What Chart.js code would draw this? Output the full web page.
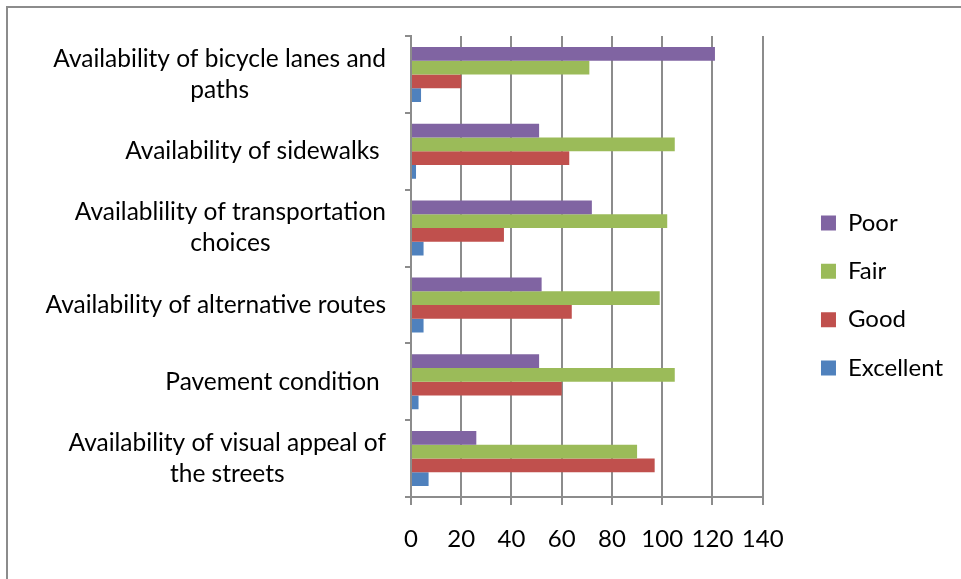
<!DOCTYPE html>
<html>
<head>
<meta charset="utf-8">
<script src="https://cdn.jsdelivr.net/npm/chart.js@4/dist/chart.umd.min.js"></script>
<style>
  html, body { margin: 0; padding: 0; background: #ffffff; overflow: hidden; }
  #frame { position: absolute; left: 6px; top: 6px; width: 1000px; height: 620px; border: 2px solid #8c8c8c; box-sizing: border-box; }
  #c { position: absolute; left: 0; top: 0; }
</style>
</head>
<body>
<div id="frame"></div>
<canvas id="c" width="961" height="579"></canvas>
<script>
const categories = [
  ["Availability of bicycle lanes and", "paths"],
  ["Availability of sidewalks "],
  ["Availablility of transportation", "choices"],
  ["Availability of alternative routes"],
  ["Pavement condition "],
  ["Availability of visual appeal of", "the streets"]
];
const seriesNames = ["Poor", "Fair", "Good", "Excellent"];
const poor      = [121, 51, 72, 52, 51, 26];
const fair      = [71, 105, 102, 99, 105, 90];
const good      = [20, 63, 37, 64, 60, 97];
const excellent = [4, 2, 5, 5, 3, 7];
const xTicks = [0, 20, 40, 60, 80, 100, 120, 140];

const colors = ["#8064A2", "#9BBB59", "#C0504D", "#4F81BD"];
const FONT = "Lato";
const FS_CAT = 24.5;
const FS = 24;

const seriesData = [poor, fair, good, excellent];
const datasets = seriesNames.map((n, i) => ({
  label: n,
  data: seriesData[i],
  backgroundColor: colors[i],
  borderWidth: 0,
  barPercentage: 1.0,
  categoryPercentage: 0.715,
  xAxisID: "x",
  yAxisID: "y"
}));

const yLabelPlugin = {
  id: "yLabelPlugin",
  afterDraw(chart) {
    const ys = chart.scales.y;
    const ctx = chart.ctx;
    ctx.save();
    ctx.font = FS_CAT + "px " + FONT;
    ctx.fillStyle = "#000000";
    ctx.textBaseline = "middle";
    ctx.textAlign = "center";
    const rightEdge = 386;
    const lh = 31;
    categories.forEach((lines, i) => {
      const cy = ys.getPixelForTick(i);
      let maxW = 0;
      lines.forEach(l => { maxW = Math.max(maxW, ctx.measureText(l).width); });
      const cx = rightEdge - maxW / 2;
      const y0 = cy - (lines.length - 1) * lh / 2;
      lines.forEach((l, k) => ctx.fillText(l, cx, y0 + k * lh));
    });
    ctx.restore();
  }
};

const gridColor = "#8c8c8c";

new Chart(document.getElementById("c"), {
  type: "bar",
  data: { labels: categories.map(c => c.join(" ")), datasets },
  options: {
    indexAxis: "y",
    responsive: false,
    devicePixelRatio: 1,
    animation: false,
    layout: { padding: { top: 16, bottom: 4, left: 0, right: 8 } },
    plugins: {
      legend: {
        position: "right",
        align: "center",
        labels: {
          font: { family: FONT, size: FS },
          color: "#000000",
          boxWidth: 15,
          boxHeight: 15,
          padding: 24.3
        }
      },
      tooltip: { enabled: false }
    },
    scales: {
      x: {
        type: "linear",
        position: "bottom",
        min: 0,
        max: 140,
        afterBuildTicks(scale) { scale.ticks = xTicks.map(v => ({ value: v })); },
        afterFit(scale) { scale.height = 78; },
        grid: { color: gridColor, lineWidth: 2, drawTicks: true, tickLength: 8, tickColor: gridColor },
        border: { display: true, color: gridColor, width: 2 },
        ticks: { font: { family: FONT, size: FS }, color: "#000000", padding: 20, maxRotation: 0 }
      },
      xTop: {
        type: "linear",
        position: "top",
        display: true,
        afterFit(scale) { scale.height = 20; },
        grid: { display: false },
        border: { display: false },
        ticks: { display: false }
      },
      y: {
        type: "category",
        position: "left",
        offset: true,
        afterFit(scale) { scale.width = 411; },
        grid: { display: true, drawOnChartArea: false, drawTicks: true, tickLength: 6, offset: true, color: gridColor, lineWidth: 2 },
        border: { display: true, color: gridColor, width: 2 },
        ticks: { display: false }
      },
      yR: {
        type: "linear",
        position: "right",
        display: true,
        afterFit(scale) { scale.width = 34; },
        grid: { display: false },
        border: { display: false },
        ticks: { display: false }
      }
    }
  },
  plugins: [yLabelPlugin]
});
</script>
</body>
</html>
